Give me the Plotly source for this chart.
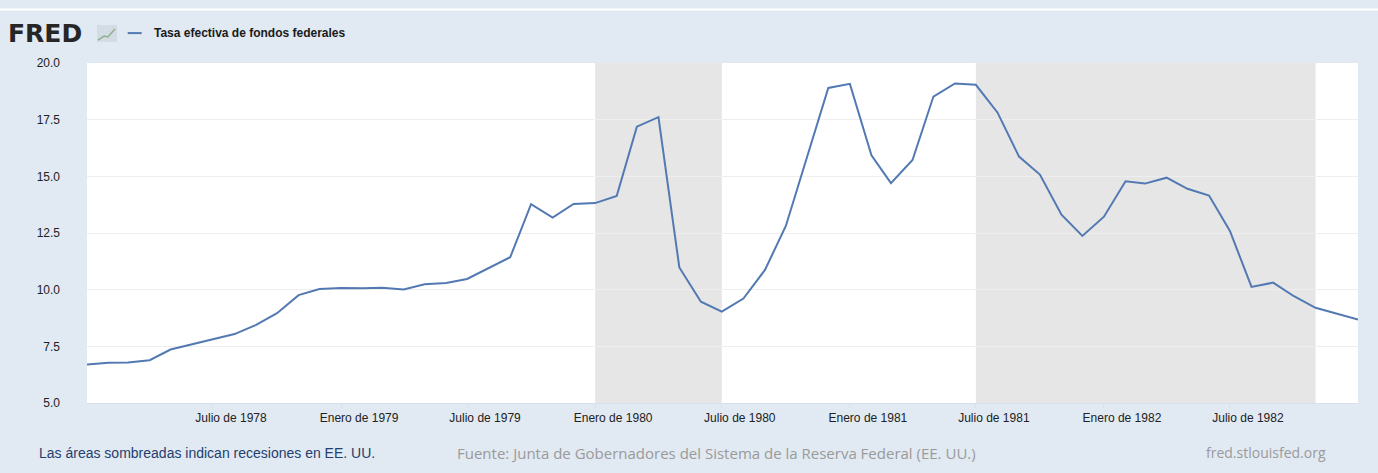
import plotly.graph_objects as go

# Monthly effective federal funds rate, Jan 1978 - Jan 1983
months = [f"{y}-{m:02d}-01" for y in range(1978, 1983) for m in range(1, 13)] + ["1983-01-01"]
rate = [
    6.70, 6.78, 6.79, 6.89, 7.36, 7.60, 7.81, 8.04, 8.45, 8.96, 9.76, 10.03,
    10.07, 10.06, 10.09, 10.01, 10.24, 10.29, 10.47, 10.94, 11.43, 13.77, 13.18, 13.78,
    13.82, 14.13, 17.19, 17.61, 10.98, 9.47, 9.03, 9.61, 10.87, 12.81, 15.85, 18.90,
    19.08, 15.93, 14.70, 15.72, 18.52, 19.10, 19.04, 17.82, 15.87, 15.08, 13.31, 12.37,
    13.22, 14.78, 14.68, 14.94, 14.45, 14.15, 12.59, 10.12, 10.31, 9.71, 9.20, 8.95,
    8.68,
]
recession_start = ["1980-01-01", "1981-07-01"]
recession_end = ["1980-07-01", "1982-11-01"]

tick_vals = ["1978-07-01", "1979-01-01", "1979-07-01", "1980-01-01", "1980-07-01",
             "1981-01-01", "1981-07-01", "1982-01-01", "1982-07-01"]
tick_text = ["Julio de 1978", "Enero de 1979", "Julio de 1979", "Enero de 1980", "Julio de 1980",
             "Enero de 1981", "Julio de 1981", "Enero de 1982", "Julio de 1982"]

BG = '#e1e9f2'
LINE = '#5279b2'

fig = go.Figure()
fig.add_trace(go.Scatter(x=months, y=rate, mode='lines',
                         line=dict(color=LINE, width=2), showlegend=False,
                         hoverinfo='x+y'))

for s, e in zip(recession_start, recession_end):
    fig.add_shape(type='rect', xref='x', yref='paper', x0=s, x1=e, y0=0, y1=1,
                  fillcolor='#e6e6e6', line_width=0, layer='below')

# thin white strip near top of the page
fig.add_shape(type='line', xref='paper', yref='paper', x0=-0.07, x1=1.02,
              y0=1.157, y1=1.157, line=dict(color='white', width=2))

# small FRED icon
fig.add_shape(type='rect', xref='paper', yref='paper', x0=0.0079, x1=0.0236,
              y0=1.0618, y1=1.1118, fillcolor='#d3dbe4', line_width=0)
fig.add_shape(type='path', xref='paper', yref='paper',
              path='M 0.0087 1.0676 L 0.0134 1.0794 L 0.0165 1.0765 L 0.0220 1.1',
              line=dict(color='#8fb08a', width=1.5))

# legend sample line
fig.add_shape(type='line', xref='paper', yref='paper', x0=0.032, x1=0.043,
              y0=1.088, y1=1.088, line=dict(color=LINE, width=2))

fig.add_annotation(text='<b>FRED</b>', xref='paper', yref='paper', x=-0.0635, y=1.088,
                   xanchor='left', yanchor='middle', showarrow=False,
                   font=dict(family='DejaVu Sans', size=25, color='#262626'))
fig.add_annotation(text='<b>Tasa efectiva de fondos federales</b>', xref='paper', yref='paper',
                   x=0.051, y=1.088, xanchor='left', yanchor='middle', showarrow=False,
                   font=dict(family='Liberation Sans', size=12, color='#1a1a1a'))

fig.add_annotation(text='Las áreas sombreadas indican recesiones en EE. UU.', xref='paper',
                   yref='paper', x=-0.0395, y=-0.147, xanchor='left', yanchor='middle',
                   showarrow=False, font=dict(family='Liberation Sans', size=14, color='#24406e'))
fig.add_annotation(text='Fuente: Junta de Gobernadores del Sistema de la Reserva Federal (EE. UU.)',
                   xref='paper', yref='paper', x=0.2895, y=-0.147, xanchor='left',
                   yanchor='middle', showarrow=False,
                   font=dict(family='Open Sans', size=15, color='#9a9a9a'))
fig.add_annotation(text='fred.stlouisfed.org', xref='paper', yref='paper', x=0.9765, y=-0.147,
                   xanchor='right', yanchor='middle', showarrow=False,
                   font=dict(family='Open Sans', size=14, color='#9a9a9a'))

fig.update_xaxes(range=['1978-01-01', '1983-01-01'], tickvals=tick_vals, ticktext=tick_text,
                 showgrid=False, ticks='outside', ticklen=4, tickcolor='#d8e0ea',
                 ticklabelshift=18, showline=True, linecolor='#d8e0ea',
                 tickfont=dict(family='Liberation Sans', size=12, color='#222222'))
fig.update_yaxes(range=[5, 20], dtick=2.5, tickformat='.1f', showgrid=True,
                 gridcolor='#eeeeee', zeroline=False, ticklabelstandoff=26,
                 tickfont=dict(family='Liberation Sans', size=12, color='#222222'))

fig.update_layout(width=1378, height=473, paper_bgcolor=BG, plot_bgcolor='white',
                  margin=dict(l=87, r=20, t=63, b=70))

fig.write_html('out.html', config={'displayModeBar': False},
               post_script="document.body.style.margin='0';")
